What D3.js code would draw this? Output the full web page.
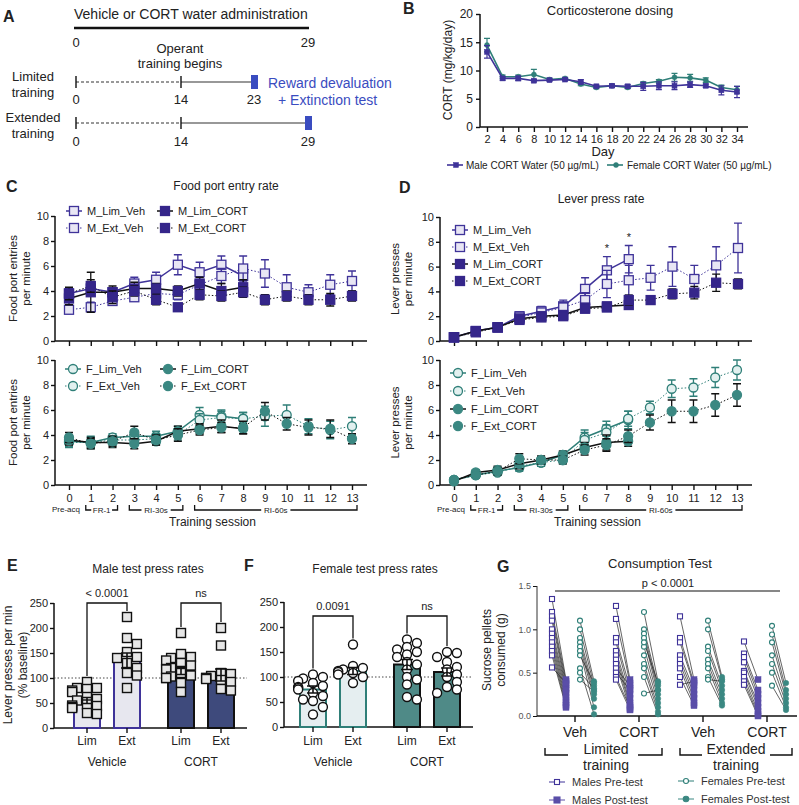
<!DOCTYPE html>
<html>
<head>
<meta charset="utf-8">
<script src="https://cdn.jsdelivr.net/npm/d3@7"></script>
<style>
body { margin: 0; background: #fff; }
text { font-family: "Liberation Sans", Arial, sans-serif; fill: #222; }
</style>
</head>
<body>
<svg id="fig" width="799" height="805"></svg>
<script>
var svg = d3.select('#fig');

// ---------- data ----------
// A: timeline (days)
var adminDays = [0, 29];
var limitedDays = [0, 14, 23];
var extendedDays = [0, 14, 29];

// B: corticosterone dosing
var dosingDays = [2, 4, 6, 8, 10, 12, 14, 16, 18, 20, 22, 24, 26, 28, 30, 32, 34];
var maleDose = [13.3, 8.6, 8.6, 8.2, 8.3, 8.4, 8.0, 7.2, 7.3, 7.2, 7.2, 7.3, 7.3, 7.5, 7.3, 6.5, 6.2];
var maleDoseErr = [1.1, 0.3, 0.4, 0.2, 0.2, 0.2, 0.4, 0.2, 0.3, 0.3, 0.7, 0.7, 0.7, 0.5, 0.3, 0.8, 1.0];
var femaleDose = [14.5, 8.9, 8.9, 9.3, 8.4, 8.6, 7.6, 7.0, 7.3, 7.0, 7.7, 8.1, 8.8, 8.7, 8.3, 7.0, 6.6];
var femaleDoseErr = [1.2, 0.3, 0.3, 0.9, 0.2, 0.2, 0.3, 0.2, 0.2, 0.2, 0.3, 0.3, 0.7, 0.6, 0.4, 0.4, 0.6];

// C / D: training sessions
var sessions = [0, 1, 2, 3, 4, 5, 6, 7, 8, 9, 10, 11, 12, 13];
var phases = [{label: 'FR-1', from: 1, to: 2}, {label: 'RI-30s', from: 3, to: 5}, {label: 'RI-60s', from: 6, to: 13}];
var maleGroups = ['M_Lim_Veh', 'M_Ext_Veh', 'M_Lim_CORT', 'M_Ext_CORT'];
var femaleGroups = ['F_Lim_Veh', 'F_Ext_Veh', 'F_Lim_CORT', 'F_Ext_CORT'];

var foodMale = [
  [3.8, 4.2, 3.9, 4.6, 4.9, 6.1, 5.5, 6.1, 5.2],
  [2.5, 2.7, 3.2, 3.5, 3.8, 3.7, 4.5, 5.2, 5.8, 5.4, 4.3, 3.9, 4.5, 4.8],
  [3.4, 3.9, 3.9, 4.2, 4.2, 4.0, 4.6, 4.0, 4.3],
  [3.8, 4.4, 3.5, 4.0, 3.3, 2.7, 3.7, 3.6, 3.9, 3.3, 3.6, 3.3, 3.3, 3.6]];
var foodMaleErr = [
  [0.4, 0.5, 0.3, 0.5, 0.6, 0.8, 0.8, 0.7, 0.6],
  [0.3, 0.4, 0.3, 0.3, 0.4, 0.4, 0.6, 0.6, 1.0, 1.1, 1.0, 0.6, 0.8, 0.8],
  [0.5, 1.6, 0.5, 0.5, 0.4, 0.4, 0.5, 0.6, 0.6],
  [0.5, 0.5, 0.5, 0.4, 0.4, 0.3, 0.4, 0.4, 0.4, 0.4, 0.4, 0.4, 0.5, 0.4]];
var foodFemale = [
  [3.5, 3.4, 3.8, 3.9, 3.9, 4.3, 5.6, 5.5, 5.3],
  [3.4, 3.4, 3.6, 3.6, 3.7, 4.0, 5.2, 5.4, 5.3, 5.5, 5.6, 4.7, 4.4, 4.7],
  [3.6, 3.4, 3.4, 3.3, 3.5, 4.3, 4.5, 4.7, 4.5],
  [3.8, 3.3, 3.5, 4.2, 3.6, 4.0, 4.4, 4.6, 4.6, 5.9, 4.9, 4.6, 4.5, 3.7]];
var foodFemaleErr = [
  [0.4, 0.5, 0.3, 0.4, 0.4, 0.4, 0.6, 0.5, 0.5],
  [0.4, 0.4, 0.3, 0.4, 0.4, 0.4, 0.5, 0.5, 0.5, 0.8, 0.8, 0.6, 0.7, 0.7],
  [0.4, 0.4, 0.4, 0.4, 0.3, 0.4, 0.4, 0.5, 0.4],
  [0.4, 0.4, 0.4, 0.5, 0.4, 0.5, 0.4, 0.4, 0.5, 0.7, 0.5, 0.6, 0.7, 0.4]];

var pressMale = [
  [0.3, 0.8, 1.1, 2.0, 2.4, 2.8, 4.2, 5.7, 6.6],
  [0.3, 0.8, 1.1, 1.9, 2.3, 2.7, 3.3, 4.6, 4.9, 5.1, 6.0, 5.0, 6.1, 7.5],
  [0.3, 0.8, 1.1, 1.8, 2.0, 2.1, 2.7, 2.8, 2.9],
  [0.3, 0.7, 1.1, 1.7, 1.9, 2.0, 2.6, 2.7, 3.3, 3.3, 3.8, 3.9, 4.7, 4.6]];
var pressMaleErr = [
  [0.1, 0.1, 0.2, 0.3, 0.4, 0.5, 0.9, 1.1, 1.1],
  [0.1, 0.1, 0.2, 0.3, 0.3, 0.4, 0.6, 1.1, 1.2, 1.0, 1.6, 1.1, 1.5, 2.0],
  [0.1, 0.1, 0.1, 0.2, 0.2, 0.2, 0.2, 0.2, 0.3],
  [0.1, 0.1, 0.1, 0.2, 0.2, 0.2, 0.2, 0.3, 0.4, 0.3, 0.4, 0.5, 0.7, 0.4]];
var pressFemale = [
  [0.4, 0.8, 1.1, 1.4, 1.8, 2.4, 3.8, 4.5, 5.2],
  [0.4, 0.8, 1.0, 1.5, 1.8, 2.0, 3.6, 4.2, 5.3, 6.2, 7.7, 7.8, 8.6, 9.2],
  [0.3, 1.0, 1.2, 1.7, 2.0, 2.4, 3.0, 3.4, 3.5],
  [0.4, 0.8, 1.1, 2.1, 2.0, 2.0, 2.8, 3.2, 3.9, 5.0, 5.9, 5.9, 6.4, 7.2]];
var pressFemaleErr = [
  [0.1, 0.1, 0.2, 0.3, 0.3, 0.3, 0.6, 0.6, 0.7],
  [0.1, 0.1, 0.2, 0.3, 0.3, 0.3, 0.6, 0.6, 0.6, 0.5, 0.7, 0.7, 0.8, 0.8],
  [0.1, 0.2, 0.3, 0.4, 0.3, 0.3, 0.4, 0.6, 0.4],
  [0.1, 0.2, 0.3, 0.4, 0.3, 0.3, 0.4, 0.5, 0.5, 0.6, 0.9, 0.9, 0.9, 0.9]];
var pressSigSessions = [7, 8];

// E / F: test press rates (% baseline)
var treatments = ['Vehicle', 'CORT'];
var trainings = ['Lim', 'Ext'];
var maleTestMean = [55, 135, 115, 106];
var maleTestErr = [6, 15, 8, 12];
var maleTestPoints = [
  [92, 80, 80, 78, 75, 72, 62, 58, 55, 47, 45, 44, 42, 30, 28, 40],
  [222, 180, 168, 152, 142, 140, 130, 120, 110, 105, 80],
  [190, 148, 142, 140, 135, 130, 125, 120, 118, 117, 110, 105, 103, 100, 90, 72, 100],
  [200, 165, 110, 108, 104, 100, 98, 96, 92, 78, 75, 100]];
var maleTestSig = ['< 0.0001', 'ns'];
var femaleTestMean = [75, 112, 125, 110];
var femaleTestErr = [7, 7, 10, 8];
var femaleTestPoints = [
  [105, 100, 97, 92, 88, 82, 80, 78, 75, 68, 62, 55, 52, 40, 25],
  [165, 122, 118, 115, 112, 110, 108, 105, 100, 88],
  [175, 168, 160, 155, 150, 145, 140, 130, 125, 115, 100, 95, 85, 60, 55],
  [150, 148, 140, 130, 120, 115, 105, 100, 90, 80, 75, 68]];
var femaleTestSig = ['0.0091', 'ns'];

// G: consumption test (g)
var consGroups = ['Lim_Veh', 'Lim_CORT', 'Ext_Veh', 'Ext_CORT'];
var consLabels = ['Veh', 'CORT', 'Veh', 'CORT'];
var consSlots = ['M_pre', 'M_post', 'F_pre', 'F_post'];
var consMalePre = [
  [1.35, 1.2, 1.15, 1.1, 1.0, 0.95, 0.9, 0.85, 0.8, 0.75, 0.7, 0.56],
  [1.27, 1.12, 0.9, 0.85, 0.75, 0.7, 0.65, 0.6, 0.55, 0.5, 0.45, 0.42],
  [1.15, 0.9, 0.85, 0.7, 0.65, 0.6, 0.55, 0.45, 0.36],
  [0.86, 0.72, 0.68, 0.62, 0.52, 0.5, 0.45, 0.4, 0.36]];
var consMalePost = [
  [0.42, 0.4, 0.36, 0.32, 0.3, 0.26, 0.22, 0.18, 0.15, 0.12, 0.1, 0.38],
  [0.42, 0.38, 0.32, 0.25, 0.2, 0.15, 0.12, 0.08, 0.35, 0.3, 0.1, 0.07],
  [0.42, 0.38, 0.35, 0.3, 0.25, 0.2, 0.15, 0.12, 0.4],
  [0.42, 0.3, 0.25, 0.2, 0.15, 0.1, 0.05, 0.02, 0.0]];
var consFemalePre = [
  [1.1, 1.0, 0.9, 0.85, 0.8, 0.75, 0.7, 0.55, 0.5, 0.42],
  [1.2, 1.0, 0.95, 0.9, 0.8, 0.7, 0.6, 0.55, 0.45, 0.26, 0.85],
  [1.1, 1.0, 0.8, 0.75, 0.65, 0.6, 0.55, 0.45, 0.42],
  [1.04, 0.94, 0.85, 0.7, 0.6, 0.5, 0.35]];
var consFemalePost = [
  [0.4, 0.35, 0.3, 0.25, 0.2, 0.1, 0.38, 0.02, 0.32, 0.28],
  [0.4, 0.35, 0.3, 0.25, 0.2, 0.15, 0.1, 0.05, 0.02, 0.3, 0.38],
  [0.45, 0.42, 0.35, 0.3, 0.25, 0.2, 0.15, 0.12, 0.4],
  [0.38, 0.3, 0.25, 0.2, 0.15, 0.1, 0.07]];

// ---------- colours ----------
var PURPLE = '#3f3399', PURPLE_LIGHT = '#e8e6f4', PURPLE_DARK = '#35268a';
var TEAL = '#2f7f78', TEAL_LIGHT = '#e2f0ef', TEAL_DARK = '#3b8882';
var BLUE = '#3a4cc0';

function txt(g, x, y, s, size, anchor, extra) {
  var t = g.append('text').attr('x', x).attr('y', y).text(s)
    .style('font-size', size + 'px').attr('text-anchor', anchor || 'start');
  if (extra) t.attr('font-weight', extra);
  return t;
}
function vtxt(g, x, y, s, size) {
  return g.append('text').attr('transform', 'translate(' + [x, y] + ') rotate(-90)')
    .attr('text-anchor', 'middle').style('font-size', size + 'px').text(s);
}
function styleAxis(a, fs) {
  a.selectAll('.domain').remove();
  a.selectAll('line').attr('stroke', '#111').attr('stroke-width', 1.4);
  a.selectAll('text').style('font-size', fs + 'px').style('fill', '#222');
}
function marker(g, shape, cx, cy, size, fill, stroke, sw) {
  if (shape == 'square') {
    return g.append('rect').attr('x', cx - size / 2).attr('y', cy - size / 2)
      .attr('width', size).attr('height', size)
      .attr('fill', fill).attr('stroke', stroke).attr('stroke-width', sw);
  }
  return g.append('circle').attr('cx', cx).attr('cy', cy).attr('r', size / 2)
    .attr('fill', fill).attr('stroke', stroke).attr('stroke-width', sw);
}

// ---------- panel letters ----------
[['A', 3, 22], ['B', 403, 14], ['C', 6, 192], ['D', 399, 193], ['E', 7, 571], ['F', 244, 571], ['G', 497, 572]]
  .forEach(function(p) { txt(svg, p[1], p[2], p[0], 16, 'start', 'bold'); });

// ---------- A ----------
(function() {
  var g = svg.append('g');
  var tx = d3.scaleLinear().domain([0, 14, 23, 29]).range([76, 181, 254, 308]);
  txt(g, 74, 19, 'Vehicle or CORT water administration', 14);
  g.append('line').attr('x1', tx(adminDays[0]) - 2).attr('x2', tx(adminDays[1]) + 1)
    .attr('y1', 28).attr('y2', 28).attr('stroke', '#111').attr('stroke-width', 2.5);
  adminDays.forEach(function(d) { txt(g, tx(d), 47, d, 13, 'middle'); });
  txt(g, 180, 53, 'Operant', 13, 'middle');
  txt(g, 180, 68, 'training begins', 13, 'middle');

  function track(days, ly, labY, names) {
    g.append('line').attr('x1', tx(days[0])).attr('x2', tx(days[1])).attr('y1', ly).attr('y2', ly)
      .attr('stroke', '#333').attr('stroke-width', 1).attr('stroke-dasharray', '3,2');
    g.append('line').attr('x1', tx(days[1])).attr('x2', tx(days[2])).attr('y1', ly).attr('y2', ly)
      .attr('stroke', '#333').attr('stroke-width', 1.2);
    days.slice(0, 2).forEach(function(d) {
      g.append('line').attr('x1', tx(d)).attr('x2', tx(d)).attr('y1', ly - 6).attr('y2', ly + 6)
        .attr('stroke', '#111').attr('stroke-width', 1.4);
    });
    g.append('rect').attr('x', tx(days[2]) - 3).attr('y', ly - 7).attr('width', 7).attr('height', 14)
      .attr('fill', BLUE);
    days.forEach(function(d) { txt(g, tx(d), labY, d, 13, 'middle'); });
    txt(g, 33, ly - 1, names[0], 13, 'middle');
    txt(g, 33, ly + 15, names[1], 13, 'middle');
  }
  track(limitedDays, 82, 104, ['Limited', 'training']);
  track(extendedDays, 123, 146, ['Extended', 'training']);
  txt(g, 268, 88, 'Reward devaluation', 14).style('fill', BLUE);
  txt(g, 278, 105, '+ Extinction test', 14).style('fill', BLUE);
})();

// ---------- B ----------
(function() {
  var g = svg.append('g');
  var x = d3.scaleLinear().domain([2, 34]).range([487, 737]);
  var y = d3.scaleLinear().domain([0, 20]).range([127, 14]);
  txt(g, 610, 15, 'Corticosterone dosing', 13, 'middle');
  g.append('g').attr('transform', 'translate(480,0)')
    .call(d3.axisLeft(y).tickValues([0, 5, 10, 15, 20]).tickSize(4).tickPadding(3))
    .call(function(a) { styleAxis(a, 12); });
  g.append('g').attr('transform', 'translate(0,127)')
    .call(d3.axisBottom(x).tickValues(dosingDays).tickSize(5).tickPadding(3))
    .call(function(a) { styleAxis(a, 11); });
  g.append('line').attr('x1', 480).attr('x2', 480).attr('y1', 14).attr('y2', 127).attr('stroke', '#111').attr('stroke-width', 1.5);
  g.append('line').attr('x1', 480).attr('x2', 748).attr('y1', 127).attr('y2', 127).attr('stroke', '#111').attr('stroke-width', 1.5);
  txt(g, 603, 156, 'Day', 13, 'middle');
  vtxt(g, 452, 70, 'CORT (mg/kg/day)', 12);

  [[femaleDose, femaleDoseErr, TEAL, 'circle'], [maleDose, maleDoseErr, PURPLE, 'square']].forEach(function(s) {
    var pts = dosingDays.map(function(d, i) { return {d: d, v: s[0][i], e: s[1][i]}; });
    g.append('path').datum(pts)
      .attr('d', d3.line().x(function(p) { return x(p.d); }).y(function(p) { return y(p.v); }))
      .attr('fill', 'none').attr('stroke', s[2]).attr('stroke-width', 1.6);
    pts.forEach(function(p) {
      var cx = x(p.d);
      g.append('path').attr('d', 'M' + (cx - 3) + ',' + y(p.v + p.e) + 'H' + (cx + 3) +
        'M' + cx + ',' + y(p.v + p.e) + 'V' + y(p.v - p.e) + 'M' + (cx - 3) + ',' + y(p.v - p.e) + 'H' + (cx + 3))
        .attr('stroke', s[2]).attr('stroke-width', 1.2).attr('fill', 'none');
      marker(g, s[3], cx, y(p.v), 5, s[2], s[2], 0.5);
    });
  });
  // legend
  [[456, 466, 'Male CORT Water (50 µg/mL)', PURPLE, 'square'], [616, 627, 'Female CORT Water (50 µg/mL)', TEAL, 'circle']]
    .forEach(function(l) {
      g.append('line').attr('x1', l[0] - 9).attr('x2', l[0] + 7).attr('y1', 165).attr('y2', 165)
        .attr('stroke', l[3]).attr('stroke-width', 1.6);
      marker(g, l[4], l[0], 165, 5, l[3], l[3], 0.5);
      txt(g, l[1], 169, l[2], 10);
    });
})();

// ---------- C / D line panels ----------
function linePanel(o) {
  var g = svg.append('g');
  var x = d3.scaleLinear().domain([0, 13]).range(o.xr);
  var y = d3.scaleLinear().domain([0, 10]).range([o.y0, o.y1]);
  g.append('g').attr('transform', 'translate(' + o.ax + ',0)')
    .call(d3.axisLeft(y).tickValues([0, 2, 4, 6, 8, 10]).tickSize(4).tickPadding(2))
    .call(function(a) { styleAxis(a, 11); });
  g.append('g').attr('transform', 'translate(0,' + o.y0 + ')')
    .call(d3.axisBottom(x).tickValues(sessions).tickSize(5).tickPadding(4)
      .tickFormat(o.labels ? d3.format('d') : ''))
    .call(function(a) { styleAxis(a, 11); });
  g.append('line').attr('x1', o.ax).attr('x2', o.ax).attr('y1', o.y1).attr('y2', o.y0).attr('stroke', '#111').attr('stroke-width', 1.5);
  g.append('line').attr('x1', o.ax).attr('x2', o.axEnd).attr('y1', o.y0).attr('y2', o.y0).attr('stroke', '#111').attr('stroke-width', 1.5);
  vtxt(g, o.lx, (o.y0 + o.y1) / 2, o.ylab[0], 11.5);
  vtxt(g, o.lx + 13, (o.y0 + o.y1) / 2, o.ylab[1], 11.5);

  function styleOf(name) {
    var ext = name.indexOf('Ext') >= 0, cort = name.indexOf('CORT') >= 0;
    return {
      dash: ext ? '1.5,2' : null,
      lw: ext ? 1 : 1.5,
      line: cort ? '#111' : o.col,
      err: cort ? '#111' : o.col,
      fill: cort ? o.dark : o.light,
      stroke: cort ? o.dark : o.col
    };
  }
  o.groups.forEach(function(name, gi) {
    var st = styleOf(name);
    var pts = o.vals[gi].map(function(v, i) { return {s: sessions[i], v: v, e: o.errs[gi][i]}; });
    g.append('path').datum(pts)
      .attr('d', d3.line().x(function(p) { return x(p.s); }).y(function(p) { return y(p.v); }))
      .attr('fill', 'none').attr('stroke', st.line).attr('stroke-width', st.lw).attr('stroke-dasharray', st.dash);
    pts.forEach(function(p) {
      var cx = x(p.s);
      g.append('path').attr('d', 'M' + (cx - 4) + ',' + y(p.v + p.e) + 'H' + (cx + 4) +
        'M' + cx + ',' + y(p.v + p.e) + 'V' + y(p.v - p.e) + 'M' + (cx - 4) + ',' + y(p.v - p.e) + 'H' + (cx + 4))
        .attr('stroke', st.err).attr('stroke-width', 1.3).attr('fill', 'none');
    });
    pts.forEach(function(p) {
      marker(g, o.shape, x(p.s), y(p.v), 9, st.fill, st.stroke, 1.3);
    });
  });
  // legend
  o.groups.forEach(function(name, gi) {
    var st = styleOf(name), lp = o.leg[gi];
    g.append('line').attr('x1', lp[0] - 8).attr('x2', lp[0] + 8).attr('y1', lp[1]).attr('y2', lp[1])
      .attr('stroke', st.line).attr('stroke-width', st.lw).attr('stroke-dasharray', st.dash);
    marker(g, o.shape, lp[0], lp[1], 9, st.fill, st.stroke, 1.3);
    txt(g, lp[0] + 13, lp[1] + 4, name, 11);
  });
  if (o.sig) {
    o.sig.forEach(function(s) {
      var top = d3.max(o.vals, function(v, gi) { return v[s] != null ? v[s] + o.errs[gi][s] : 0; });
      txt(g, x(s), y(top) - 5, '*', 11, 'middle');
    });
  }
  if (o.labels) {
    txt(g, x(0) - 3, 512, 'Pre-acq', 8, 'middle');
    phases.forEach(function(p) {
      var a = x(p.from) - 5, b = x(p.to) + 5, m = (a + b) / 2;
      var w = p.label.length * 4.2 + 4;
      g.append('path').attr('d', 'M' + a + ',505V510H' + (m - w / 2) + 'M' + (m + w / 2) + ',510H' + b + 'V505')
        .attr('fill', 'none').attr('stroke', '#111').attr('stroke-width', 1.3);
      txt(g, m, 512.5, p.label, 8, 'middle');
    });
    txt(g, (o.xr[0] + o.xr[1]) / 2 + 2, 526, 'Training session', 12, 'middle');
  }
  return g;
}

txt(svg, 226, 190, 'Food port entry rate', 12, 'middle');
linePanel({xr: [69, 352], ax: 55, axEnd: 367, y0: 341, y1: 216, labels: false, shape: 'square',
  col: PURPLE, light: PURPLE_LIGHT, dark: PURPLE_DARK, groups: maleGroups, vals: foodMale, errs: foodMaleErr,
  ylab: ['Food port entries', 'per minute'], lx: 17,
  leg: [[74, 211], [74, 228], [165, 211], [165, 228]]});
linePanel({xr: [69, 352], ax: 55, axEnd: 367, y0: 485, y1: 360, labels: true, shape: 'circle',
  col: TEAL, light: TEAL_LIGHT, dark: TEAL_DARK, groups: femaleGroups, vals: foodFemale, errs: foodFemaleErr,
  ylab: ['Food port entries', 'per minute'], lx: 17,
  leg: [[73, 369], [73, 386], [168, 369], [168, 386]]});

txt(svg, 601, 203, 'Lever press rate', 12, 'middle');
linePanel({xr: [454, 738], ax: 440, axEnd: 752, y0: 341, y1: 217, labels: false, shape: 'square',
  col: PURPLE, light: PURPLE_LIGHT, dark: PURPLE_DARK, groups: maleGroups, vals: pressMale, errs: pressMaleErr,
  ylab: ['Lever presses', 'per minute'], lx: 399, sig: pressSigSessions,
  leg: [[460, 230], [460, 247], [460, 264], [460, 281]]});
linePanel({xr: [454, 737], ax: 440, axEnd: 752, y0: 485, y1: 360, labels: true, shape: 'circle',
  col: TEAL, light: TEAL_LIGHT, dark: TEAL_DARK, groups: femaleGroups, vals: pressFemale, errs: pressFemaleErr,
  ylab: ['Lever presses', 'per minute'], lx: 399,
  leg: [[458, 373], [458, 391], [458, 409], [458, 426]]});

// ---------- E / F bar panels ----------
// simple deterministic swarm: push a point sideways while it overlaps one already placed
function swarm(vals, y, size, maxStep) {
  var placed = [], out = [];
  var order = vals.map(function(v, i) { return i; }).sort(function(a, b) { return vals[b] - vals[a]; });
  var steps = [0];
  for (var k = 1; k <= maxStep; k++) { steps.push(k, -k); }
  order.forEach(function(i) {
    var py = y(vals[i]), dx = 0;
    for (var k = 0; k < steps.length; k++) {
      var cand = steps[k] * size * 0.55;
      var hit = placed.some(function(p) { return Math.abs(p.x - cand) < size * 0.75 && Math.abs(p.y - py) < size * 0.75; });
      dx = cand;
      if (!hit) break;
    }
    placed.push({x: dx, y: py});
    out.push({dx: dx, y: py});
  });
  return out;
}

function barPanel(o) {
  var g = svg.append('g');
  var outer = d3.scaleBand().domain(treatments).range(o.xr).paddingInner(0.149);
  var inner = d3.scaleBand().domain(trainings).range([0, outer.bandwidth()]).paddingInner(0.35).paddingOuter(0.175);
  var y = d3.scaleLinear().domain([0, 250]).range([o.y0, o.y1]);
  function cx(i) { return outer(treatments[Math.floor(i / 2)]) + inner(trainings[i % 2]) + inner.bandwidth() / 2; }

  txt(g, o.titleX, 573, o.title, 12, 'middle');
  g.append('g').attr('transform', 'translate(' + o.ax + ',0)')
    .call(d3.axisLeft(y).tickValues([0, 50, 100, 150, 200, 250]).tickSize(4).tickPadding(2))
    .call(function(a) { styleAxis(a, 11); });
  g.append('line').attr('x1', o.ax).attr('x2', o.ax).attr('y1', o.y1).attr('y2', o.y0).attr('stroke', '#111').attr('stroke-width', 1.5);
  g.append('line').attr('x1', o.ax).attr('x2', o.axEnd).attr('y1', o.y0).attr('y2', o.y0).attr('stroke', '#111').attr('stroke-width', 1.5);
  g.append('line').attr('x1', o.ax).attr('x2', o.axEnd).attr('y1', y(100)).attr('y2', y(100))
    .attr('stroke', '#333').attr('stroke-width', 0.9).attr('stroke-dasharray', '1.5,2');

  o.mean.forEach(function(m, i) {
    var cort = i >= 2, c = cx(i), bw = inner.bandwidth();
    g.append('rect').attr('x', c - bw / 2).attr('y', y(m)).attr('width', bw).attr('height', y(0) - y(m))
      .attr('fill', cort ? o.dark : o.light).attr('stroke', cort ? '#111' : o.col).attr('stroke-width', 2);
    g.append('line').attr('x1', c).attr('x2', c).attr('y1', o.y0).attr('y2', o.y0 + 5).attr('stroke', '#111').attr('stroke-width', 1.4);
    txt(g, c, 745, trainings[i % 2], 12, 'middle');
  });
  o.points.forEach(function(pts, i) {
    var c = cx(i);
    swarm(pts, y, 9, 3).forEach(function(p) {
      marker(g, o.shape, c + p.dx, p.y, 9, o.ptFill, '#111', 1.4);
    });
  });
  o.mean.forEach(function(m, i) {
    var c = cx(i), e = o.err[i];
    g.append('path').attr('d', 'M' + (c - 6) + ',' + y(m + e) + 'H' + (c + 6) + 'M' + c + ',' + y(m + e) + 'V' + y(m - e) +
      'M' + (c - 6) + ',' + y(m - e) + 'H' + (c + 6))
      .attr('stroke', '#111').attr('stroke-width', 1.6).attr('fill', 'none');
  });
  treatments.forEach(function(t, ti) {
    var gc = outer(t) + outer.bandwidth() / 2;
    txt(g, gc, 766, t, 12, 'middle');
    var a = cx(ti * 2), b = cx(ti * 2 + 1);
    var ya = y(d3.max(o.points[ti * 2])) - 6, yb = y(d3.max(o.points[ti * 2 + 1])) - 6;
    g.append('path').attr('d', 'M' + a + ',' + ya + 'V' + o.sigY + 'H' + b + 'V' + yb)
      .attr('fill', 'none').attr('stroke', '#111').attr('stroke-width', 1.3);
    txt(g, (a + b) / 2, o.sigY - 6, o.sig[ti], 11, 'middle');
  });
  return g;
}

barPanel({xr: [67, 241], ax: 54, axEnd: 247, y0: 728, y1: 603, title: 'Male test press rates', titleX: 148,
  mean: maleTestMean, err: maleTestErr, points: maleTestPoints, sig: maleTestSig, sigY: 603,
  col: PURPLE, light: '#e7e7ef', dark: '#3e4a7c', shape: 'square', ptFill: '#e6e6e6'});
vtxt(svg, 12, 665, 'Lever presses per min', 12);
vtxt(svg, 27, 665, '(% baseline)', 12);
barPanel({xr: [293, 467], ax: 284, axEnd: 473, y0: 727, y1: 602, title: 'Female test press rates', titleX: 375,
  mean: femaleTestMean, err: femaleTestErr, points: femaleTestPoints, sig: femaleTestSig, sigY: 616,
  col: TEAL, light: '#e5eef0', dark: '#4f8a87', shape: 'circle', ptFill: '#fff'});

// ---------- G ----------
(function() {
  var g = svg.append('g');
  var y = d3.scaleLinear().domain([0, 1.5]).range([716, 586]);
  var xg = d3.scalePoint().domain(consGroups).range([575, 767]);
  var xs = d3.scalePoint().domain(consSlots).range([-23, 19]);
  txt(g, 660, 568, 'Consumption Test', 13, 'middle');
  g.append('g').attr('transform', 'translate(537,0)')
    .call(d3.axisLeft(y).tickValues([0, 0.5, 1.0, 1.5]).tickFormat(d3.format('.1f')).tickSize(4).tickPadding(2))
    .call(function(a) { styleAxis(a, 9); a.selectAll('text').style('fill', '#555'); a.selectAll('line').attr('stroke-width', 1); });
  g.append('line').attr('x1', 537).attr('x2', 537).attr('y1', 586).attr('y2', 716).attr('stroke', '#333').attr('stroke-width', 1);
  g.append('line').attr('x1', 537).attr('x2', 797).attr('y1', 716).attr('y2', 716).attr('stroke', '#111').attr('stroke-width', 1.4);
  vtxt(g, 491, 650, 'Sucrose pellets', 12);
  vtxt(g, 505, 650, 'consumed (g)', 12);

  consGroups.forEach(function(grp, gi) {
    var c = xg(grp);
    g.append('line').attr('x1', c).attr('x2', c).attr('y1', 716).attr('y2', 722).attr('stroke', '#111').attr('stroke-width', 1.4);
    txt(g, c, 737, consLabels[gi], 14, 'middle');
    [[consMalePre[gi], consMalePost[gi], 'M_pre', 'M_post'], [consFemalePre[gi], consFemalePost[gi], 'F_pre', 'F_post']]
      .forEach(function(s) {
        s[0].forEach(function(v, i) {
          g.append('line').attr('x1', c + xs(s[2])).attr('x2', c + xs(s[3])).attr('y1', y(v)).attr('y2', y(s[1][i]))
            .attr('stroke', '#222').attr('stroke-width', 0.7);
        });
      });
    consMalePost[gi].forEach(function(v) { marker(g, 'square', c + xs('M_post'), y(v), 6, '#5a4ea8', '#5a4ea8', 0.5); });
    consFemalePost[gi].forEach(function(v) { marker(g, 'circle', c + xs('F_post'), y(v), 5.5, TEAL_DARK, TEAL_DARK, 0.5); });
    consMalePre[gi].forEach(function(v) { marker(g, 'square', c + xs('M_pre'), y(v), 5, '#fff', PURPLE, 1.1); });
    consFemalePre[gi].forEach(function(v) { marker(g, 'circle', c + xs('F_pre'), y(v), 5, '#fff', TEAL, 1.1); });
  });

  g.append('line').attr('x1', 555).attr('x2', 780).attr('y1', 591).attr('y2', 591).attr('stroke', '#111').attr('stroke-width', 1.2);
  txt(g, 668, 587, 'p < 0.0001', 11, 'middle');

  [[545, 568, 638, 662, 606, 'Limited'], [680, 702, 770, 792, 736, 'Extended']].forEach(function(b) {
    g.append('path').attr('d', 'M' + b[0] + ',748V755H' + b[1] + 'M' + b[2] + ',755H' + b[3] + 'V748')
      .attr('fill', 'none').attr('stroke', '#111').attr('stroke-width', 1.4);
    txt(g, b[4], 754, b[5], 14, 'middle');
    txt(g, b[4], 770, 'training', 14, 'middle');
  });

  [[557, 782, 'Males Pre-test', 'square', '#fff', PURPLE, 5], [557, 800, 'Males Post-test', 'square', '#5a4ea8', '#5a4ea8', 6],
   [686, 781, 'Females Pre-test', 'circle', '#fff', TEAL, 5], [686, 799, 'Females Post-test', 'circle', TEAL_DARK, TEAL_DARK, 5.5]]
    .forEach(function(l) {
      g.append('line').attr('x1', l[0] - 8).attr('x2', l[0] + 8).attr('y1', l[1]).attr('y2', l[1])
        .attr('stroke', l[5]).attr('stroke-width', 1);
      marker(g, l[3], l[0], l[1], l[6], l[4], l[5], 1.1);
      txt(g, l[0] + 15, l[1] + 4, l[2], 11).style('fill', '#333');
    });
})();
</script>
</body>
</html>
